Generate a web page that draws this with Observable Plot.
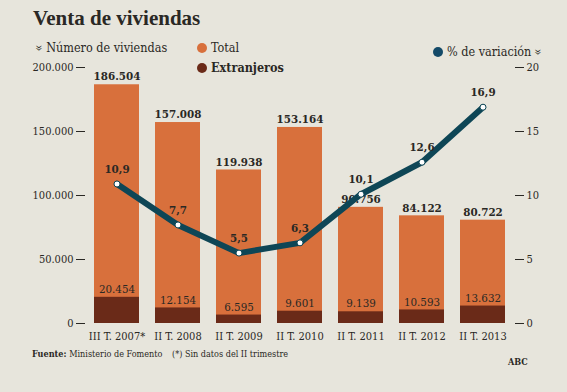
<!DOCTYPE html>
<html><head><meta charset="utf-8">
<script src="https://cdn.jsdelivr.net/npm/d3@7"></script>
<script src="https://cdn.jsdelivr.net/npm/@observablehq/plot@0.6"></script>
<style>
body{margin:0;background:#e7e5dc;}
#wrap{position:relative;width:567px;height:392px;overflow:hidden;background:#e7e5dc;font-family:"DejaVu Serif Condensed","DejaVu Serif",serif;color:#2a2824;}
.t{position:absolute;white-space:nowrap;}
.dot{display:inline-block;width:10px;height:10px;border-radius:50%;vertical-align:-1px;margin-right:4px;}
.chev{display:inline-block;transform:rotate(90deg);font-size:12px;line-height:10px;}
svg{position:absolute;left:0;top:0;}
svg text{font-family:"DejaVu Serif Condensed","DejaVu Serif",serif;}
</style></head>
<body><div id="wrap">
<div class="t" style="left:33px;top:6px;font-size:21px;font-weight:bold;font-family:'Liberation Serif',serif;">Venta de viviendas</div>
<div class="t" style="left:36px;top:40px;font-size:12.5px;"><span class="chev">»</span>&nbsp;Número de viviendas</div>
<div class="t" style="left:197px;top:40px;font-size:12.5px;"><span class="dot" style="background:#d8703c"></span>Total</div>
<div class="t" style="left:197px;top:60px;font-size:12.5px;font-weight:bold;"><span class="dot" style="background:#6a2a18"></span>Extranjeros</div>
<div class="t" style="left:433px;top:44px;font-size:12.5px;"><span class="dot" style="background:#144a68"></span>% de variación <span class="chev">»</span></div>
<div class="t" style="left:32px;top:349px;font-size:9px;font-weight:bold;">Fuente: <span style="font-weight:normal">Ministerio de Fomento</span></div>
<div class="t" style="left:172px;top:349px;font-size:9px;">(*) Sin datos del II trimestre</div>
<div class="t" style="left:508px;top:357px;font-size:9px;font-weight:bold;">ABC</div>
</div>
<script>
const categories = ["III T. 2007*","II T. 2008","II T. 2009","II T. 2010","II T. 2011","II T. 2012","II T. 2013"];
const totals = [186504,157008,119938,153164,90756,84122,80722];
const extranjeros = [20454,12154,6595,9601,9139,10593,13632];
const variacion = [10.9,7.7,5.5,6.3,10.1,12.6,16.9];
const leftTicks = [0,50000,100000,150000,200000];
const rightTicks = [0,5,10,15,20];

const loc = d3.formatLocale({decimal:",", thousands:".", grouping:[3], currency:["",""]});
const fmtN = loc.format(",");
const fmtP = loc.format(".1f");
const K = 10000; // right axis (%) mapped onto left scale
const data = categories.map((c,i)=>({cat:c,total:totals[i],ext:extranjeros[i],pct:variacion[i]}));

const chart = Plot.plot({
  width:567, height:392,
  marginTop:67, marginBottom:69, marginLeft:85, marginRight:53,
  style:{background:"transparent", fontSize:"11px", color:"#2a2824"},
  x:{domain:categories, paddingInner:0.27, paddingOuter:0, insetLeft:8, insetRight:9, label:null},
  y:{domain:[0,200000], label:null},
  marks:[
    Plot.axisY({ticks:leftTicks, tickFormat:fmtN, tickSize:9, tickPadding:3, anchor:"left", label:null, fontSize:11}),
    Plot.axisY({ticks:rightTicks.map(d=>d*K), tickFormat:d=>d/K, tickSize:9, tickPadding:3, anchor:"right", label:null, fontSize:11}),
    Plot.axisX({tickSize:0, tickPadding:9, label:null, fontSize:11}),
    Plot.barY(data,{x:"cat", y:"total", fill:"#d8703c"}),
    Plot.barY(data,{x:"cat", y:"ext", fill:"#6a2a18"}),
    Plot.text(data,{x:"cat", y:"total", text:d=>fmtN(d.total), dy:-8, fontSize:11.5, fontWeight:"bold", fill:"#2a2824"}),
    Plot.text(data,{x:"cat", y:"ext", text:d=>fmtN(d.ext), dy:-8, fontSize:11.5, fill:"#2a2824"}),
    Plot.line(data,{x:"cat", y:d=>d.pct*K, stroke:"#0e4656", strokeWidth:6, strokeLinejoin:"round"}),
    Plot.dot(data,{x:"cat", y:d=>d.pct*K, r:3, fill:"white", stroke:"#0e4656", strokeWidth:1}),
    Plot.text(data,{x:"cat", y:d=>d.pct*K, text:d=>fmtP(d.pct), dy:-15, fontSize:11.5, fontWeight:"bold", fill:"#2a2824"})
  ]
});
document.getElementById("wrap").prepend(chart);
</script>
</body></html>
